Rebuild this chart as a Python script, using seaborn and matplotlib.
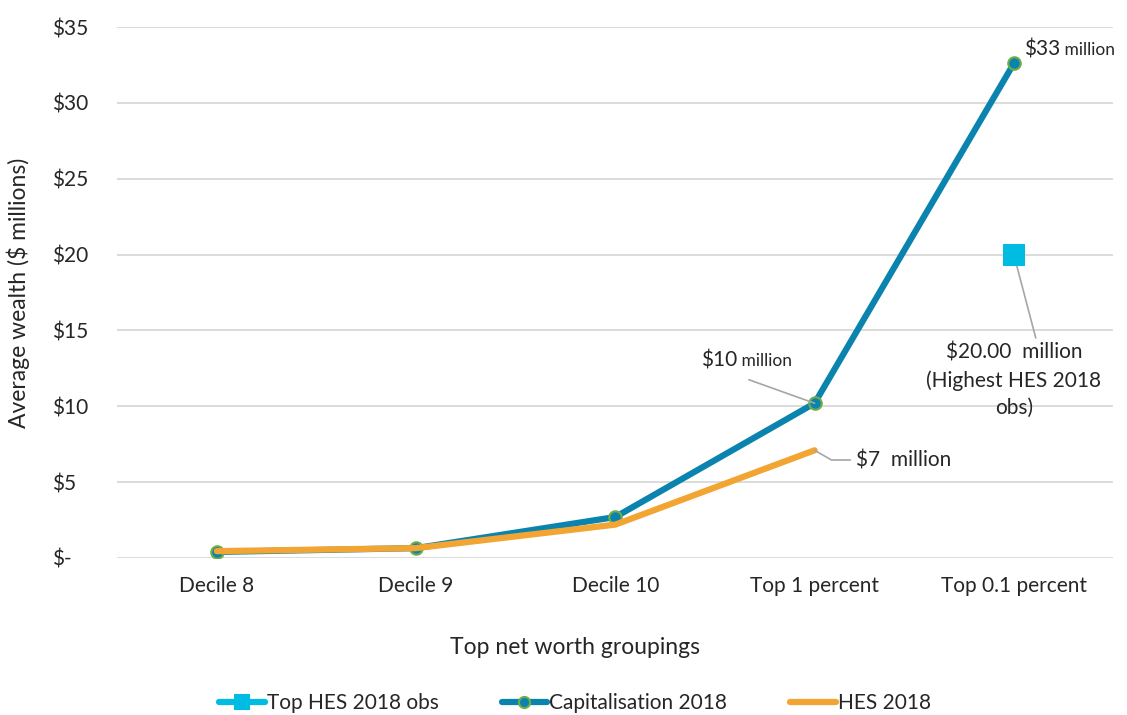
import matplotlib
matplotlib.use("Agg")
import matplotlib.pyplot as plt
import matplotlib.transforms as mtransforms
import pandas as pd
import seaborn as sns

### Data ###
groups = ["Decile 8", "Decile 9", "Decile 10", "Top 1 percent", "Top 0.1 percent"]
capitalisation = [0.40, 0.65, 2.70, 10.2, 32.6]
hes = [0.45, 0.65, 2.20, 7.10]
top_hes_group = ["Top 0.1 percent"]
top_hes_obs = [20.0]
yticks = [0, 5, 10, 15, 20, 25, 30, 35]
ytick_labels = ["$-", "$5", "$10", "$15", "$20", "$25", "$30", "$35"]

df_cap = pd.DataFrame({"group": groups, "wealth": capitalisation})
df_hes = pd.DataFrame({"group": groups[:len(hes)], "wealth": hes})
df_top = pd.DataFrame({"group": top_hes_group, "wealth": top_hes_obs})

sns.set_style("white")
plt.rcParams["font.family"] = ["Lato", "DejaVu Sans"]

c_cap = "#0A84AE"
c_hes = "#F2A533"
c_top = "#00BCE2"
c_grey = "#A6A6A6"
fs = 15

fig = plt.figure(figsize=(11.27, 7.15), dpi=100)
ax = fig.add_axes([0.104, 0.2196, 0.884, 0.7426])

# keep category order fixed
ax.plot(groups, [None] * len(groups), alpha=0)

sns.lineplot(data=df_top, x="group", y="wealth", ax=ax, color=c_top, lw=4.5,
             marker="s", markersize=16, markeredgewidth=0, label="Top HES 2018 obs",
             sort=False, zorder=4)
sns.lineplot(data=df_cap, x="group", y="wealth", ax=ax, color=c_cap, lw=4.5,
             marker="o", markersize=9, markeredgecolor="#70AD47", markeredgewidth=1.5,
             label="Capitalisation 2018", sort=False, zorder=3)
sns.lineplot(data=df_hes, x="group", y="wealth", ax=ax, color=c_hes, lw=4.5,
             label="HES 2018", sort=False, zorder=3)

### Format ###
ax.set_xlim(-0.5, 4.5)
ax.set_ylim(0, 35)
ax.set_yticks(yticks)
ax.set_yticklabels(ytick_labels, ha="left")
ax.tick_params(axis="y", length=0, pad=46.8, labelsize=fs)
ax.tick_params(axis="x", length=0, pad=13, labelsize=fs)
ax.grid(axis="y", color="#D9D9D9", lw=1.3)
ax.set_axisbelow(True)
for s in ax.spines.values():
    s.set_visible(False)
ax.set_xlabel("")
ax.set_ylabel("Average wealth ($ millions)", fontsize=16.5)
ax.yaxis.set_label_coords(-0.088, 0.5)
fig.text(575 / 1127, 1 - 648 / 715, "Top net worth groupings", fontsize=16.5,
         ha="center", va="center")

### Data labels ###
leader = dict(arrowstyle="-", color=c_grey, lw=1.2, shrinkA=0, shrinkB=0)
ax.annotate("", xy=(3, capitalisation[3]), xytext=(2.67, 11.75), arrowprops=leader)
t10 = ax.text(2.43, 12.65, "$10", fontsize=fs, ha="left", va="baseline")

ax.annotate("", xy=(3, hes[3]), xytext=(3.18, 6.46),
            arrowprops=dict(leader, connectionstyle="angle,angleA=0,angleB=-30,rad=0"))
ax.text(3.21, 6.4, "$7  million", fontsize=fs, ha="left", va="center")

ax.annotate("", xy=(4, top_hes_obs[0]), xytext=(4.11, 14.5), arrowprops=leader)
ax.text(4.0, 14.2, "$20.00  million\n(Highest HES 2018\nobs)", fontsize=fs,
        ha="center", va="top", linespacing=1.45)

t33 = ax.text(4.05, 33.15, "$33", fontsize=fs, ha="left", va="baseline")

# smaller "million" on the same baseline as the dollar figure
fig.canvas.draw()
for t in (t10, t33):
    w = t.get_window_extent().width
    tr = mtransforms.offset_copy(ax.transData, fig=fig, x=w, y=0, units="dots")
    ax.text(*t.get_position(), " million", fontsize=12.5, ha="left", va="baseline",
            transform=tr)

### Legend ###
ax.legend_.remove()
h, l = ax.get_legend_handles_labels()
leg = fig.legend(h, l, loc="center", bbox_to_anchor=(575 / 1127, 1 - 703 / 715), ncol=3,
                 frameon=False, fontsize=fs, handlelength=2.2, handletextpad=0.1,
                 columnspacing=3.0)
leg.legend_handles[0].set_markersize(11)
leg.legend_handles[1].set_markersize(8)

fig.savefig("out.png", dpi=100)
